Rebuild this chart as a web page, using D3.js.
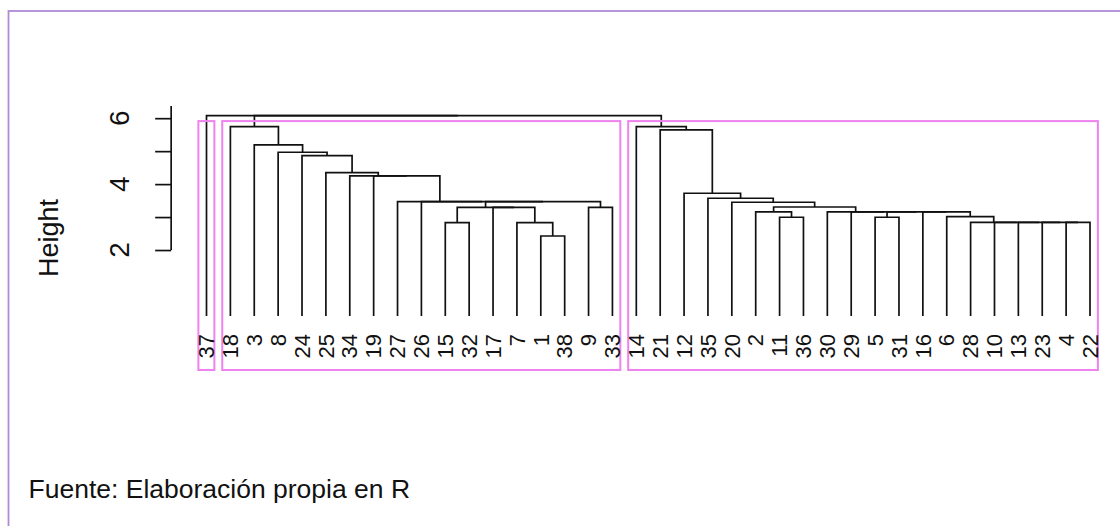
<!DOCTYPE html>
<html><head><meta charset="utf-8">
<script src="https://cdn.jsdelivr.net/npm/d3@7"></script>
<style>html,body{margin:0;padding:0;background:#fff;} svg{display:block;font-family:"Liberation Sans",Arial,Helvetica,sans-serif;}</style>
</head><body><svg id="c" width="1120" height="526"></svg>
<script>
// Leaf order as drawn (left to right)
const leafLabels = [37,18,3,8,24,25,34,19,27,26,15,32,17,7,1,38,9,33,14,21,12,35,20,2,11,36,30,29,5,31,16,6,28,10,13,23,4,22];
// hclust-style merge matrix: negative = observation, positive = earlier merge row (1-based)
const merges = [
  [-1,-38],[-15,-32],[-7,1],[-4,-22],[-23,4],[-13,5],[-10,6],[-28,7],[-5,-31],[-11,-36],
  [-6,8],[-2,10],[-16,11],[9,13],[-29,14],[-30,15],[-17,3],[2,17],[-9,-33],[12,16],
  [-20,20],[18,19],[-26,22],[-27,23],[-35,21],[-12,25],[-19,24],[-34,27],[-25,28],[-24,29],
  [-8,30],[-3,31],[-21,26],[-14,33],[-18,32],[35,34],[-37,36]
];
const heights = [
  2.426,2.83,2.83,2.84,2.84,2.84,2.84,2.84,2.994,2.994,
  3.012,3.155,3.155,3.155,3.155,3.155,3.297,3.297,3.297,3.306,
  3.449,3.467,3.467,3.467,3.571,3.722,4.25,4.25,4.35,4.865,
  4.967,5.19,5.645,5.745,5.745,6.079,6.079
];
const yTickValues = [2,3,4,5,6];
const yTickLabels = [2,4,6];
const clusterFirst = [37,18,14];
const clusterLast  = [37,33,22];
const kClusters = 3;
const yTitle = "Height";
const caption = "Fuente: Elaboración propia en R";

const svg = d3.select("#c");

// outer frame (only left & top visible)
svg.append("rect").attr("x",8.5).attr("y",11).attr("width",1300).attr("height",700)
  .attr("fill","none").attr("stroke","#b08ad4").attr("stroke-width",1.8);

const n = leafLabels.length;
const x = d3.scaleLinear().domain([1, n]).range([206.5, 1090]);
const y = d3.scaleLinear().domain([-1.64, 6.37]).range([370, 106]);
const plotLeft = x(1 - 0.04*(n-1));
const plotBottom = y.range()[0], plotTop = y.range()[1];

const pos = {};
leafLabels.forEach((l,i)=>pos[l]=i+1);
const nodeX = [], nodeH = [];
const cX = c => c<0 ? x(pos[-c]) : nodeX[c-1];
const cH = c => c<0 ? 0 : nodeH[c-1];

const paths = [];
merges.forEach((m,i)=>{
  const x1 = cX(m[0]), x2 = cX(m[1]);
  const h1 = cH(m[0]), h2 = cH(m[1]);
  const h = heights[i];
  nodeX[i] = (x1+x2)/2; nodeH[i] = h;
  paths.push(`M${x1},${y(h1)}V${y(h)}H${x2}V${y(h2)}`);
});

svg.append("g").selectAll("path").data(paths).join("path")
  .attr("d", d=>d).attr("fill","none").attr("stroke","#111").attr("stroke-width",1.7);

// cluster rectangles (rect.hclust)
const sortedH = heights.slice().sort((a,b)=>b-a);
const cut = (sortedH[kClusters-2] + sortedH[kClusters-1]) / 2;
svg.append("g").selectAll("rect").data(clusterFirst.map((f,i)=>[f,clusterLast[i]])).join("rect")
  .attr("x", d=>x(pos[d[0]]-0.34))
  .attr("width", d=>x(pos[d[1]]+0.33)-x(pos[d[0]]-0.34))
  .attr("y", y(cut)).attr("height", plotBottom - y(cut))
  .attr("fill","none").attr("stroke","#ee82ee").attr("stroke-width",2);

// y axis
const ax = svg.append("g").attr("transform",`translate(${plotLeft},0)`)
  .call(d3.axisLeft(y).tickValues(yTickValues).tickSize(16).tickFormat(""));
ax.select(".domain").remove();
ax.selectAll(".tick line").attr("stroke","#111").attr("stroke-width",1.7);
ax.append("line").attr("x1",0).attr("x2",0).attr("y1",y(2)).attr("y2",plotTop)
  .attr("stroke","#111").attr("stroke-width",1.7);

svg.append("g").selectAll("text").data(yTickLabels).join("text")
  .attr("transform", d=>`translate(129,${y(d)}) rotate(-90)`)
  .attr("text-anchor","middle").attr("font-size",28).attr("fill","#111").text(d=>d);

svg.append("text").attr("transform",`translate(58,${(plotTop+plotBottom)/2}) rotate(-90)`)
  .attr("text-anchor","middle").attr("font-size",27).attr("fill","#111").text(yTitle);

// leaf labels
svg.append("g").selectAll("text").data(leafLabels).join("text")
  .attr("transform", d=>`translate(${x(pos[d])},334) rotate(-90)`)
  .attr("text-anchor","end").attr("dy","0.35em").attr("font-size",22).attr("fill","#111").text(d=>d);

// caption
svg.append("text").attr("x",28.5).attr("y",497.5).attr("font-size",26.5).attr("fill","#111").text(caption);
</script></body></html>
